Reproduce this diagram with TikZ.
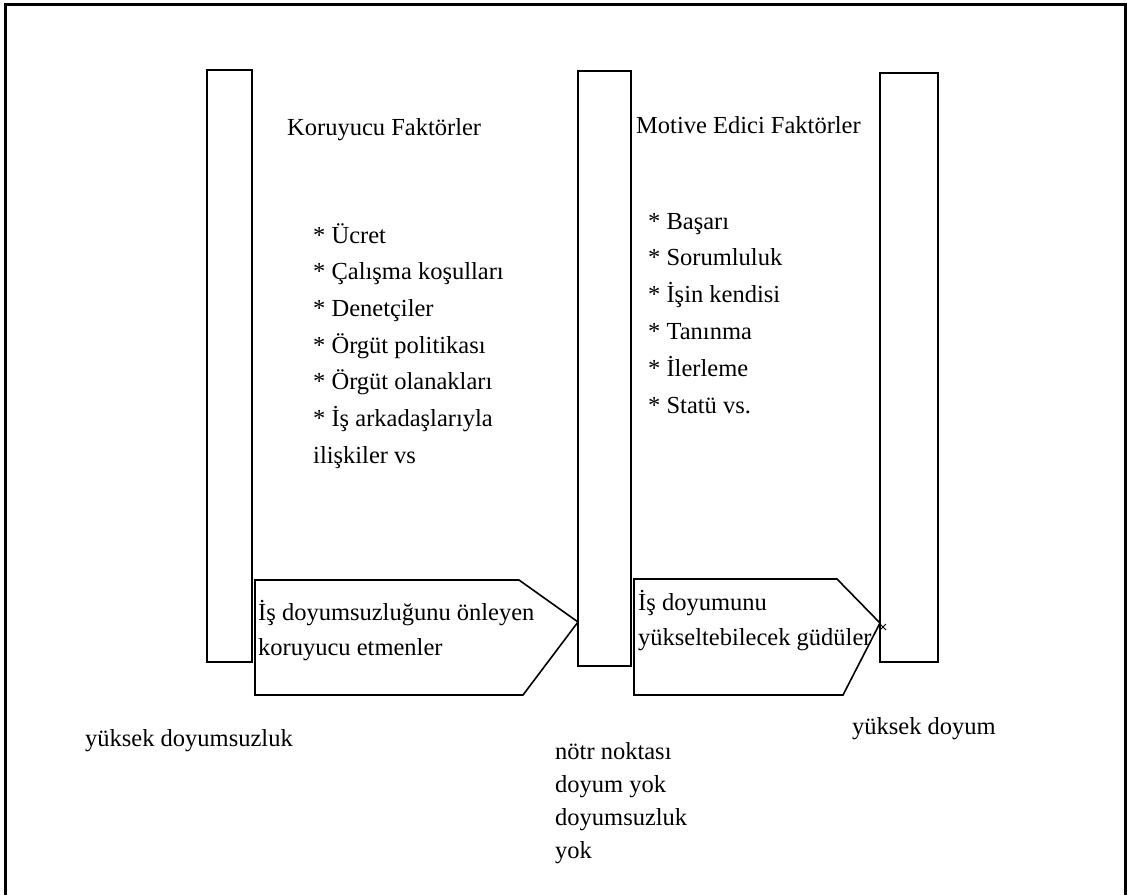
\documentclass[tikz,border=0pt]{standalone}
\usepackage{fontspec}
\setmainfont{Liberation Serif}
\usetikzlibrary{calc}
\begin{document}
\begin{tikzpicture}[x=1pt,y=-1pt,
  lbl/.style={anchor=base west, inner sep=0pt, font=\fontsize{24.5}{37}\selectfont},
  barbox/.style={draw, line width=1.6pt},
  arrowbox/.style={draw, line width=1.6pt, line join=miter}]
\useasboundingbox (0,0) rectangle (1130,895);
% frame
\draw[line width=3pt] (5,895) -- (5,4) -- (1125,4) -- (1125,895);
% bars
\draw[barbox] (207,70) rectangle (252,662);
\draw[barbox] (578,71) rectangle (631,666);
\draw[barbox] (880,73) rectangle (938,662);
% arrow shapes
\draw[arrowbox] (255,580) -- (519,580) -- (578,622) -- (523,695) -- (255,695) -- cycle;
\draw[arrowbox] (634,579) -- (837,579) -- (880,623) -- (843,695) -- (634,695) -- cycle;
% small cross at the second arrow's tip
\coordinate (tip) at (883,627);
\draw[line width=0.8pt] ($(tip)+(-3,-3)$) -- ($(tip)+(3,3)$) ($(tip)+(-3,3)$) -- ($(tip)+(3,-3)$);
% headings
\node[lbl] (kf) at (287,135) {Koruyucu Faktörler};
\node[lbl] (mf) at (636,133) {Motive Edici Faktörler};
% lists
\foreach \t [count=\i from 0] in {* Ücret,* Çalışma koşulları,* Denetçiler,* Örgüt politikası,* Örgüt olanakları,* İş arkadaşlarıyla,ilişkiler vs}
  \node[lbl] (k\i) at (313,243+36.67*\i) {\t};
\foreach \t [count=\i from 0] in {* Başarı,* Sorumluluk,* İşin kendisi,* Tanınma,* İlerleme,* Statü vs.}
  \node[lbl] (m\i) at (648,229+36.8*\i) {\t};
% arrow texts
\node[lbl] (a1) at (258,620) {İş doyumsuzluğunu önleyen};
\node[lbl] (a2) at (258,655) {koruyucu etmenler};
\node[lbl] (b1) at (638,610) {İş doyumunu};
\node[lbl] (b2) at (638,645) {yükseltebilecek güdüler};
% bottom labels
\node[lbl] (ylow) at (85,746) {yüksek doyumsuzluk};
\node[lbl] (n1) at (555,759) {nötr noktası};
\node[lbl] (n2) at (555,792) {doyum yok};
\node[lbl] (n3) at (555,825) {doyumsuzluk};
\node[lbl] (n4) at (555,858) {yok};
\node[lbl] (yhigh) at (852,734) {yüksek doyum};
\end{tikzpicture}
\end{document}
